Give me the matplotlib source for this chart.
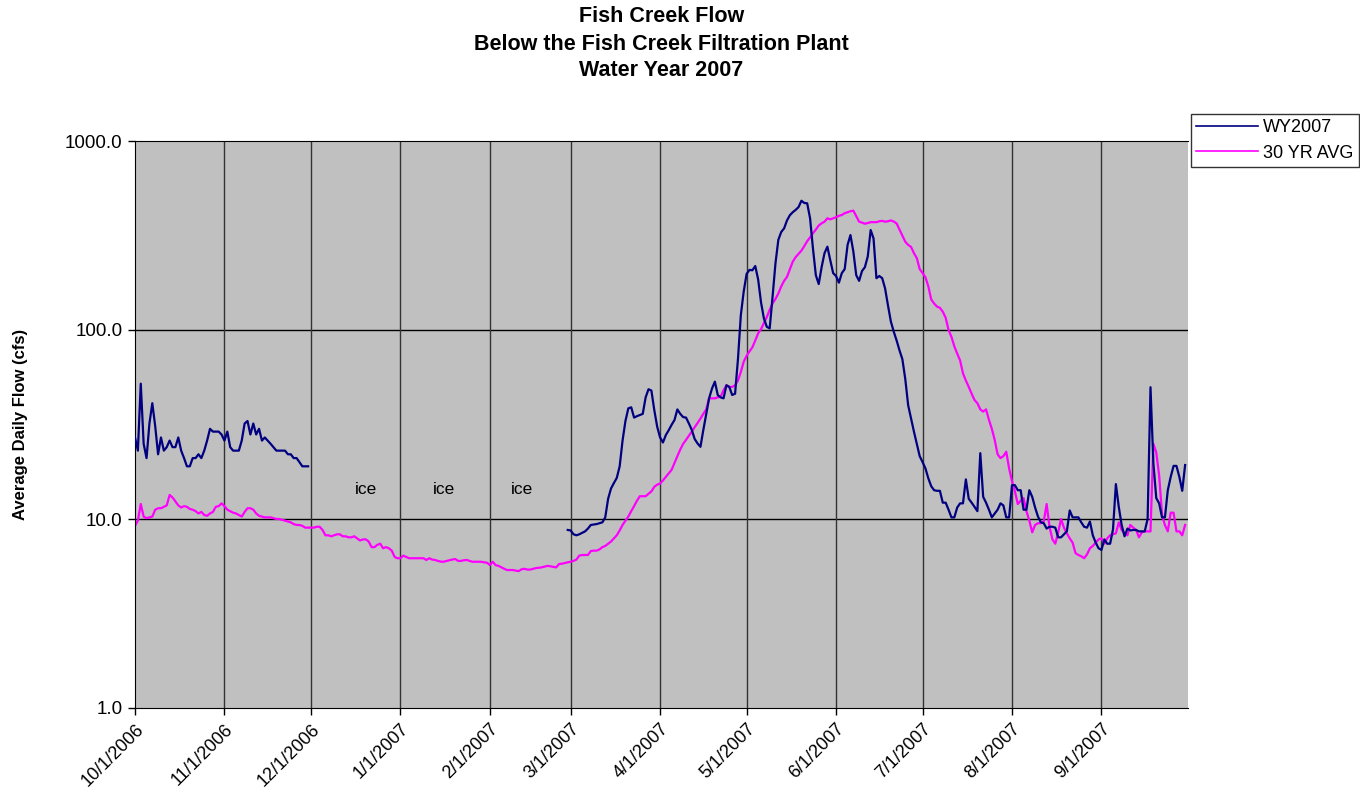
import numpy as np
import matplotlib
matplotlib.use("Agg")
import matplotlib.pyplot as plt
from matplotlib.ticker import FixedLocator, NullLocator

plt.rcParams['font.family'] = ['Liberation Sans', 'DejaVu Sans']

# Month boundary labels (water year 2007) and their day offsets from 10/1/2006
month_labels = ["10/1/2006", "11/1/2006", "12/1/2006", "1/1/2007", "2/1/2007",
                "3/1/2007", "4/1/2007", "5/1/2007", "6/1/2007", "7/1/2007",
                "8/1/2007", "9/1/2007"]
month_days = [0, 31, 61, 92, 123, 151, 182, 212, 243, 273, 304, 335]

# 30-year average daily flow (cfs), one value per day from 10/1 to 9/30
avg_30yr = [
    9.2, 9.8, 12.0, 10.3, 10.1, 10.2, 10.3, 11.2, 11.4, 11.4,
    11.6, 11.8, 13.4, 13.0, 12.4, 11.8, 11.5, 11.7, 11.6, 11.3,
    11.2, 11.0, 10.7, 10.9, 10.5, 10.4, 10.7, 10.9, 11.6, 11.7,
    12.1, 11.7, 11.2, 11.0, 10.8, 10.7, 10.5, 10.3, 10.9, 11.4,
    11.4, 11.2, 10.7, 10.4, 10.3, 10.2, 10.2, 10.2, 10.1, 10.0,
    10.0, 9.9, 9.8, 9.7, 9.6, 9.4, 9.3, 9.3, 9.2, 9.0,
    9.0, 9.0, 9.0, 9.1, 9.1, 8.75, 8.2, 8.2, 8.1, 8.2,
    8.3, 8.3, 8.1, 8.1, 8.0, 8.0, 8.1, 7.9, 7.7, 7.8,
    7.8, 7.6, 7.1, 7.1, 7.3, 7.4, 7.0, 7.1, 7.0, 6.8,
    6.3, 6.2, 6.2, 6.4, 6.3, 6.2, 6.2, 6.2, 6.2, 6.2,
    6.2, 6.07, 6.2, 6.1, 6.07, 6.0, 5.95, 5.94, 6.0, 6.05,
    6.1, 6.14, 6.0, 6.0, 6.05, 6.07, 6.0, 5.94, 5.94, 5.94,
    5.94, 5.9, 5.87, 5.71, 5.94, 5.7, 5.65, 5.55, 5.45, 5.37,
    5.37, 5.37, 5.33, 5.3, 5.42, 5.45, 5.4, 5.4, 5.45, 5.5,
    5.52, 5.55, 5.6, 5.65, 5.62, 5.58, 5.55, 5.78, 5.8, 5.85,
    5.9, 5.94, 6.0, 6.1, 6.4, 6.45, 6.45, 6.45, 6.77, 6.8,
    6.8, 6.9, 7.1, 7.2, 7.4, 7.6, 7.9, 8.2, 8.7, 9.3,
    9.8, 10.3, 11.0, 11.7, 12.5, 13.2, 13.2, 13.2, 13.6, 14.0,
    14.8, 15.2, 15.4, 16.0, 16.7, 17.4, 18.2, 19.8, 21.5, 23.3,
    25.0, 26.2, 27.6, 29.0, 30.6, 32.2, 34.0, 36.0, 38.0, 43.5,
    43.5, 43.5, 44.0, 44.4, 48.0, 51.0, 50.0, 50.0, 51.0, 54.0,
    60.0, 68.0, 73.0, 77.0, 81.0, 88.0, 96.0, 101.0, 109.0, 117.0,
    128.0, 138.0, 146.0, 156.0, 170.0, 182.0, 191.0, 210.0, 230.0, 243.0,
    253.0, 263.0, 278.0, 295.0, 309.0, 325.0, 340.0, 357.0, 367.0, 374.0,
    390.0, 385.0, 390.0, 395.0, 402.0, 406.0, 415.0, 420.0, 425.0, 428.0,
    400.0, 374.0, 370.0, 365.0, 368.0, 372.0, 372.0, 372.0, 376.0, 378.0,
    374.0, 376.0, 380.0, 375.0, 366.0, 340.0, 315.0, 293.0, 282.0, 275.0,
    255.0, 240.0, 210.0, 200.0, 190.0, 170.0, 145.0, 138.0, 133.0, 131.0,
    125.0, 116.0, 100.0, 92.0, 82.0, 75.0, 69.0, 59.0, 54.0, 50.0,
    46.0, 42.6, 41.0, 38.0, 37.0, 38.0, 33.5, 30.0, 26.2, 22.0,
    21.0, 21.5, 22.7, 18.5, 15.8, 14.0, 12.0, 12.5, 12.9, 11.0,
    9.8, 8.5, 9.3, 9.5, 9.5, 9.7, 12.0, 9.1, 7.8, 7.4,
    8.5, 10.0, 9.0, 8.4, 7.9, 7.5, 6.6, 6.45, 6.35, 6.2,
    6.5, 7.0, 7.2, 7.5, 7.8, 7.9, 7.4, 7.9, 8.2, 8.3,
    8.4, 9.6, 8.75, 8.4, 8.2, 9.3, 9.0, 8.75, 8.0, 8.5,
    8.6, 8.6, 8.6, 25.0, 22.5, 17.0, 10.5, 9.3, 8.6, 10.8,
    10.8, 8.6, 8.6, 8.2, 9.3,
]

# WY2007 daily flow (cfs): fall record, then spring/summer record after ice-out
wy_fall = [
    27, 23, 52, 25, 21, 32, 41, 31, 22, 27,
    23, 24, 26, 24, 24, 27, 23, 21, 19, 19,
    21, 21, 22, 21, 23, 26, 30, 29, 29, 29,
    28, 26, 29, 24, 23, 23, 23, 26, 32, 33,
    28, 32, 28, 30, 26, 27, 26, 25, 24, 23,
    23, 23, 23, 22, 22, 21, 21, 20, 19, 19,
    19,
]
wy_spring_start = 150  # 2/28/2007
wy_spring = [
    8.75, 8.7, 8.3, 8.2, 8.3, 8.45, 8.6, 8.9, 9.3, 9.35,
    9.4, 9.5, 9.6, 10.2, 12.8, 14.5, 15.5, 16.5, 19, 26,
    33, 38.5, 39, 34.4, 35, 35.5, 36, 44, 48.6, 47.8,
    37.7, 30.8, 27, 25.4, 27.8, 29.5, 31.5, 33.4, 38, 36,
    34.6, 34.4, 32, 29.6, 26.5, 25.1, 24.1, 29.6, 36, 43.5,
    49, 53.3, 45.3, 44, 43.5, 51, 50, 45.3, 46, 70,
    120, 160, 198, 208, 207, 218, 185, 140, 115, 104,
    102, 150, 225, 300, 330, 345, 380, 405, 420, 432,
    447, 483, 470, 468, 390, 270, 195, 175, 215, 255,
    276, 234, 200, 193, 178, 200, 210, 282, 318, 260,
    195, 182, 205, 215, 245, 338, 305, 188, 193, 188,
    166, 135, 111, 98, 88, 78, 70, 55, 40, 34,
    29, 25, 21.5, 20, 18.5, 16.4, 14.9, 14.2, 14.1, 14.1,
    12.2, 12.2, 11.2, 10.2, 10.2, 11.5, 12.1, 12.1, 16.2, 12.8,
    12.2, 11.6, 11.0, 22.3, 13.1, 12.2, 11.2, 10.2, 10.7, 11.2,
    12.1, 11.8, 10.2, 10.2, 15.1, 15.1, 14.2, 14.2, 11.2, 11.2,
    14.2, 13.1, 11.5, 10.3, 9.6, 9.5, 8.9, 9.1, 9.1, 9.0,
    8.0, 8.0, 8.3, 8.6, 11.1, 10.2, 10.2, 10.2, 9.6, 9.1,
    9.0, 9.7, 8.2, 7.5, 7.0, 6.86, 7.8, 7.4, 7.4, 8.8,
    15.3, 11.6, 9.3, 8.1, 8.9, 8.7, 8.75, 8.75, 8.6, 8.6,
    8.6, 10, 49.8, 19.7, 12.9, 12.1, 10.2, 10.2, 14.2, 16.7,
    19.1, 19.1, 16.7, 14.1, 19.3,
]

# Days (from 10/1) where the record is marked as iced over
ice_days = [80, 107, 134]

n_days = len(avg_30yr)
days = np.arange(n_days)
wy = np.full(n_days, np.nan)
wy[:len(wy_fall)] = wy_fall
wy[wy_spring_start:wy_spring_start + len(wy_spring)] = wy_spring

W, H = 1360, 793
fig = plt.figure(figsize=(W / 100, H / 100), dpi=100)
fig.patch.set_facecolor("white")
ax = fig.add_axes([135 / W, 1 - 708 / H, (1188 - 135) / W, (708 - 141) / H])
ax.set_facecolor("#C0C0C0")

ax.set_yscale("log")
ax.set_ylim(1, 1000)
ax.set_xlim(0, 365)

# gridlines: horizontal at each decade, vertical at month starts
for yv in [10, 100]:
    ax.axhline(yv, color="black", lw=1.0, zorder=1)
for d in month_days[1:]:
    ax.axvline(d, color="#333333", lw=1.0, zorder=1)

ax.plot(days, wy, color="#000080", lw=1.6, label="WY2007", zorder=3)
ax.plot(days, avg_30yr, color="#FF00FF", lw=1.6, label="30 YR AVG", zorder=2)

for d in ice_days:
    ax.text(d, 14.4, "ice", fontsize=12.5, ha="center", va="center", color="black")

ax.yaxis.set_major_locator(FixedLocator([1, 10, 100, 1000]))
ax.yaxis.set_minor_locator(NullLocator())
ax.set_yticklabels(["1.0", "10.0", "100.0", "1000.0"], fontsize=13.5)
ax.xaxis.set_major_locator(FixedLocator(month_days))
ax.set_xticklabels(month_labels, fontsize=13, rotation=45,
                   ha="right", va="top", rotation_mode="anchor")
ax.tick_params(axis="both", direction="out", length=5, width=1, color="black")
ax.tick_params(axis="x", pad=4)
ax.tick_params(axis="y", pad=4)

ax.spines["right"].set_visible(False)
for side in ["top", "left", "bottom"]:
    ax.spines[side].set_color("black")

ax.set_ylabel("Average Daily Flow (cfs)", fontsize=12, fontweight="bold")
ax.yaxis.set_label_coords((28 - 135) / 1053, 0.5)

# three-line chart title, centred over the plot area
title_lines = ["Fish Creek Flow", "Below the Fish Creek Filtration Plant", "Water Year 2007"]
title_y = [17, 44, 71]
cx = (135 + 1188) / 2 / W
for txt, yp in zip(title_lines, title_y):
    fig.text(cx, 1 - yp / H, txt, fontsize=15.5, fontweight="bold",
             ha="center", va="center")

handles, labels = ax.get_legend_handles_labels()
leg = fig.legend(handles, labels, loc="upper left",
                 bbox_to_anchor=(1191 / W, 1 - 114 / H), bbox_transform=fig.transFigure,
                 frameon=True, fancybox=False, fontsize=13, handlelength=3.4,
                 borderpad=0.3, labelspacing=0.45, handletextpad=0.3, borderaxespad=0)
leg.get_frame().set_edgecolor("black")
leg.get_frame().set_linewidth(1.0)
for line in leg.get_lines():
    line.set_linewidth(1.2)

fig.savefig("out.png", dpi=100)
